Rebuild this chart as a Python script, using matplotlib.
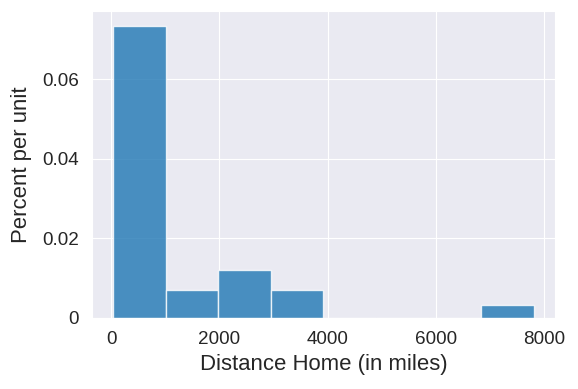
import matplotlib
matplotlib.use("Agg")
import matplotlib.pyplot as plt
import seaborn as sns
import numpy as np

# Histogram bins (miles) and heights (percent per unit)
bin_edges = [35, 1006, 1978, 2950, 3921, 4893, 5865, 6838, 7810]
heights = [0.0735, 0.00695, 0.01215, 0.00695, 0.0, 0.0, 0.0, 0.0032]
x_label = "Distance Home (in miles)"
y_label = "Percent per unit"
y_ticks = [0, 0.02, 0.04, 0.06]
y_tick_labels = ["0", "0.02", "0.04", "0.06"]
x_ticks = [0, 2000, 4000, 6000, 8000]

sns.set_style("darkgrid")
plt.rcParams["font.family"] = ["Liberation Sans", "DejaVu Sans"]

fig = plt.figure(figsize=(5.78, 3.89), dpi=100)
ax = fig.add_axes([92 / 578, 1 - 318 / 389, (555 - 92) / 578, (318 - 11) / 389])

ax.hist(bin_edges[:-1], bins=bin_edges, weights=heights,
        color="#1f77b4", alpha=0.8, edgecolor="white", linewidth=1)

ax.set_xticks(x_ticks)
ax.set_xticklabels([str(t) for t in x_ticks])
ax.set_yticks(y_ticks)
ax.set_yticklabels(y_tick_labels)
ax.tick_params(labelsize=13.6, colors="#262626")
ax.tick_params(axis="x", pad=6)
ax.tick_params(axis="y", pad=6)
ax.set_xlabel(x_label, fontsize=15.9, color="#262626", labelpad=4)
ax.set_ylabel(y_label, fontsize=15.9, color="#262626", labelpad=7)

fig.savefig("out.png", dpi=100)
